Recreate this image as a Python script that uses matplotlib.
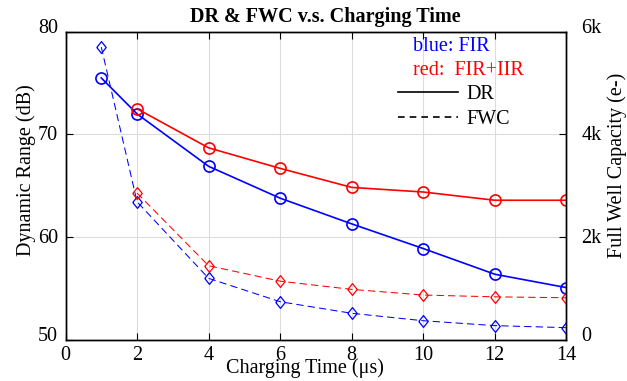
import matplotlib
matplotlib.use("Agg")
import matplotlib.pyplot as plt
from matplotlib.lines import Line2D
from matplotlib.transforms import ScaledTranslation

# ---- data ----
t_fir = [1, 2, 4, 6, 8, 10, 12, 14]
t_iir = [2, 4, 6, 8, 10, 12, 14]
dr_fir = [75.5, 72.0, 66.9, 63.8, 61.3, 58.9, 56.4, 55.1]
dr_iir = [72.5, 68.7, 66.7, 64.85, 64.4, 63.6, 63.6]
fwc_fir = [5700, 2690, 1200, 745, 520, 375, 280, 240]
fwc_iir = [2860, 1445, 1145, 985, 875, 840, 822]

x_ticks = [0, 2, 4, 6, 8, 10, 12, 14]
dr_ticks = [50, 60, 70, 80]
fwc_ticks = [0, 2000, 4000, 6000]
fwc_tick_labels = ["0", "2k", "4k", "6k"]

plt.rcParams['font.family'] = ['Liberation Serif', 'DejaVu Serif']

FS = 14.5
BLUE = (0, 0, 1)
RED = (1, 0, 0)

fig = plt.figure(figsize=(6.27, 3.81), dpi=100)
ax = fig.add_axes([0.1045, 0.1076, 0.7987, 0.8092])
ax2 = ax.twinx()

diamond = [(-0.8, 0), (0, 1), (0.8, 0), (0, -1), (-0.8, 0)]

ax.plot(t_fir, dr_fir, '-', color=BLUE, lw=1.2, marker='o', ms=8,
        mfc='none', mec=BLUE, mew=1.2, zorder=3)
ax.plot(t_iir, dr_iir, '-', color=RED, lw=1.2, marker='o', ms=8,
        mfc='none', mec=RED, mew=1.2, zorder=3)
ax2.plot(t_fir, fwc_fir, color=BLUE, lw=0.75, dashes=(7, 4), marker=diamond,
         ms=8.5, mfc='none', mec=BLUE, mew=0.9)
ax2.plot(t_iir, fwc_iir, color=RED, lw=0.75, dashes=(7, 4), marker=diamond,
         ms=8.5, mfc='none', mec=RED, mew=0.9)

ax.set_xlim(0, 14)
ax.set_ylim(50, 80)
ax2.set_ylim(0, 6000)
ax.set_xticks(x_ticks)
ax.set_xticklabels([str(v) for v in x_ticks])
ax.set_yticks(dr_ticks)
ax.set_yticklabels([str(v) for v in dr_ticks])
ax2.set_yticks(fwc_ticks)
ax2.set_yticklabels(fwc_tick_labels)

ax.grid(True, color='#dcdcdc', lw=0.8)
ax.set_axisbelow(True)

ax.tick_params(axis='x', which='both', direction='in', length=5, width=0.8,
               top=True, bottom=True, labelsize=FS, pad=4)
ax.tick_params(axis='y', which='both', direction='in', length=5, width=0.8,
               left=True, right=False, labelsize=FS, pad=5.5)
ax2.tick_params(axis='y', which='both', direction='in', length=5, width=0.8,
                right=True, labelsize=FS, pad=11)
for a in (ax, ax2):
    for s in a.spines.values():
        s.set_linewidth(1.0)
        s.set_color('black')

# vertical nudges of y tick labels (px, upward)
left_dy = [6, 1.5, 1.5, 5.5]
right_dy = [6, 1.5, 1.5, 5.5]
for tick, dy in zip(ax.yaxis.get_major_ticks(), left_dy):
    tick.label1.set_transform(tick.label1.get_transform() +
                              ScaledTranslation(0, dy / 100, fig.dpi_scale_trans))
for tick, dy in zip(ax2.yaxis.get_major_ticks(), right_dy):
    tick.label2.set_transform(tick.label2.get_transform() +
                              ScaledTranslation(0, dy / 100, fig.dpi_scale_trans))

ax.set_title("DR & FWC v.s. Charging Time", fontsize=FS, fontweight='bold',
             x=0.519, y=1.0325, pad=0)
ax.set_xlabel("Charging Time (μs)", fontsize=FS)
ax.xaxis.set_label_coords(0.478, -0.091)
ax.xaxis.label.set_va('center')
ax.set_ylabel("Dynamic Range (dB)", fontsize=FS)
ax.yaxis.set_label_coords(-0.078, 0.551)
ax.yaxis.label.set_va('center')
ax2.set_ylabel("Full Well Capacity (e-)", fontsize=FS)
ax2.yaxis.set_label_coords(1.102, 0.568)
ax2.yaxis.label.set_va('center')

ax.text(0.693, 0.938, "blue: FIR", color=BLUE, fontsize=FS,
        transform=ax.transAxes, ha='left', va='baseline')
ax.text(0.693, 0.860, "red:  FIR+IIR", color=RED, fontsize=FS,
        transform=ax.transAxes, ha='left', va='baseline')

handles = [Line2D([], [], color='black', lw=1.2, ls='-'),
           Line2D([], [], color='black', lw=1.2, dashes=(4, 3))]
leg = ax2.legend(handles, ["DR", "FWC"], loc='upper left',
                 bbox_to_anchor=(0.664, 0.827), frameon=False, fontsize=FS,
                 handlelength=3.0, handletextpad=0.4, labelspacing=0.27,
                 borderpad=0, borderaxespad=0)

fig.savefig("out.png", dpi=100)
